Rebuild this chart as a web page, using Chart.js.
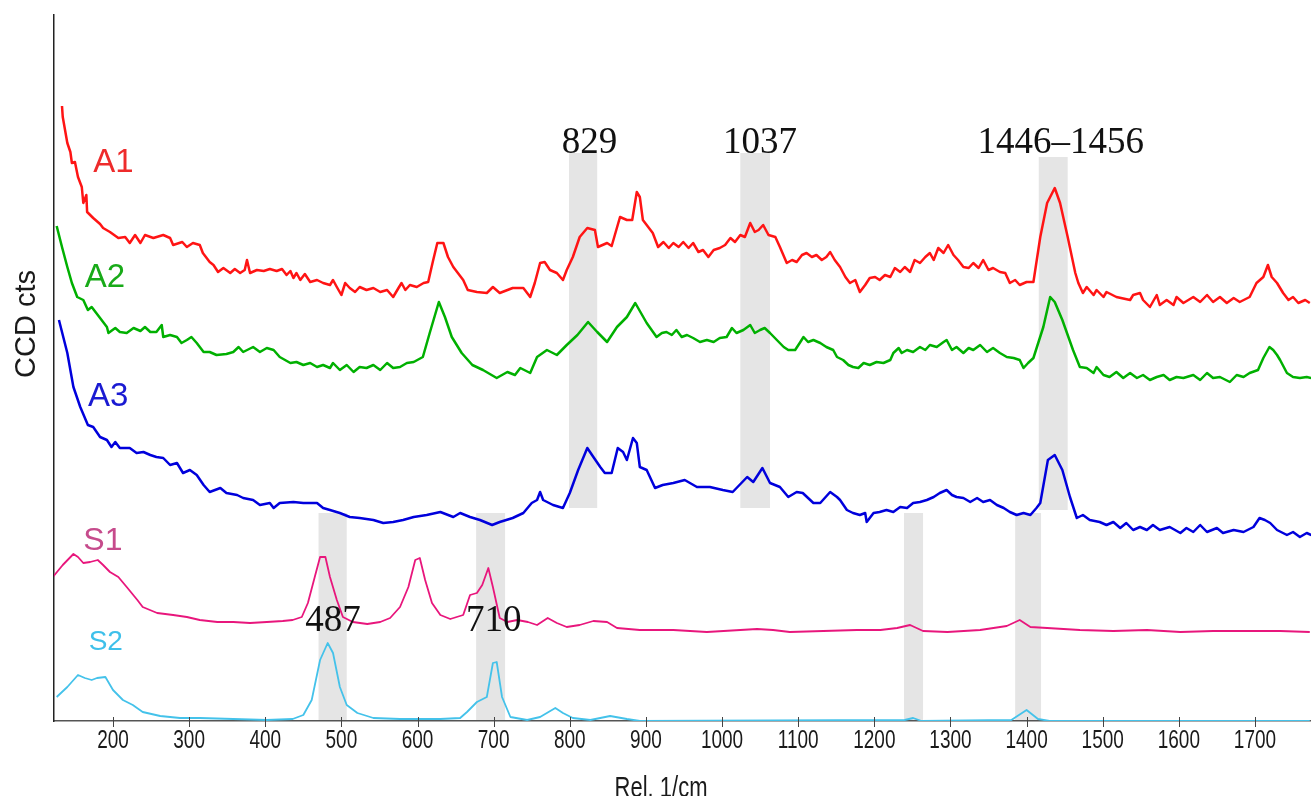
<!DOCTYPE html>
<html>
<head>
<meta charset="UTF-8"/>
<script src="https://cdn.jsdelivr.net/npm/chart.js@4.4.0/dist/chart.umd.min.js"></script>
<style>
  html, body { margin: 0; padding: 0; background: #fff; }
</style>
</head>
<body>
<canvas id="chart" width="1311" height="796"></canvas>
<script>
// [Raman shift (1/cm), CCD counts] per trace, offsets included
const a1 = [[133,615],[134,604],[140,578],[144,569],[146,558],[150,559],[154,544],[159,534],[161,518],[165,526],[166,509],[174,503],[183,497],[187,493],[196,489],[207,483],[216,484],[222,478],[229,486],[236,478],[242,486],[253,483],[266,486],[275,483],[279,476],[291,479],[297,474],[305,478],[314,476],[318,468],[327,459],[332,456],[338,449],[345,453],[354,448],[360,452],[367,448],[373,451],[376,461],[380,448],[389,451],[398,450],[406,452],[415,450],[422,452],[428,446],[433,450],[437,443],[441,448],[446,441],[452,447],[459,439],[468,441],[476,438],[485,436],[489,441],[494,434],[500,426],[505,438],[511,433],[518,429],[524,434],[533,431],[542,433],[551,429],[560,431],[568,424],[575,433],[579,438],[584,431],[590,436],[599,434],[608,438],[614,439],[620,459],[626,478],[634,478],[640,464],[647,454],[660,441],[666,431],[678,429],[691,428],[699,434],[708,428],[725,433],[739,433],[748,424],[754,438],[761,458],[767,459],[774,451],[783,448],[791,441],[796,451],[804,464],[813,484],[823,493],[833,491],[837,474],[849,478],[855,475],[866,504],[875,501],[882,501],[888,529],[892,524],[896,501],[909,488],[916,474],[923,479],[930,473],[936,478],[943,474],[949,479],[956,473],[962,478],[969,469],[975,471],[982,464],[989,471],[997,473],[1004,476],[1011,483],[1017,479],[1024,486],[1030,484],[1037,498],[1043,489],[1048,491],[1054,496],[1061,486],[1070,484],[1076,474],[1085,458],[1092,461],[1098,459],[1105,466],[1111,468],[1118,464],[1124,466],[1131,461],[1137,464],[1142,469],[1148,461],[1155,454],[1162,444],[1168,438],[1175,441],[1181,429],[1188,436],[1194,443],[1201,444],[1207,441],[1214,446],[1221,444],[1227,453],[1234,449],[1240,454],[1247,449],[1253,461],[1260,458],[1267,464],[1273,468],[1278,461],[1284,473],[1291,468],[1297,476],[1304,466],[1310,461],[1317,454],[1324,453],[1330,458],[1337,453],[1343,461],[1350,451],[1356,453],[1365,449],[1372,448],[1378,438],[1385,441],[1391,436],[1400,439],[1409,439],[1418,484],[1427,518],[1437,533],[1444,518],[1454,484],[1464,448],[1468,438],[1474,428],[1479,434],[1488,426],[1492,431],[1501,424],[1505,429],[1518,424],[1536,421],[1540,426],[1549,428],[1553,421],[1562,414],[1571,426],[1575,416],[1584,421],[1593,416],[1597,424],[1606,418],[1619,424],[1628,419],[1637,426],[1645,419],[1654,424],[1663,418],[1672,423],[1680,419],[1693,424],[1702,438],[1711,444],[1717,456],[1722,444],[1729,438],[1737,428],[1744,421],[1750,424],[1757,418],[1766,421],[1772,418]];

const a2 = [[126,495],[133,474],[140,454],[146,438],[153,424],[161,421],[167,411],[172,414],[183,403],[192,394],[194,388],[203,393],[209,389],[218,388],[227,393],[236,390],[242,394],[249,389],[257,389],[264,396],[266,384],[275,386],[284,384],[290,378],[297,381],[303,384],[310,378],[319,369],[327,369],[336,366],[349,367],[358,369],[365,374],[371,369],[384,374],[393,369],[402,373],[411,371],[419,364],[433,358],[441,359],[450,356],[459,358],[468,354],[476,356],[485,353],[489,358],[498,351],[507,356],[516,349],[524,354],[533,353],[542,356],[551,351],[560,358],[568,353],[577,354],[586,358],[595,359],[607,364],[616,388],[628,419],[636,404],[645,384],[658,368],[672,356],[686,351],[704,343],[718,349],[728,346],[735,353],[748,348],[757,364],[770,371],[783,366],[796,376],[810,386],[824,399],[836,389],[849,379],[862,394],[875,404],[886,418],[901,398],[914,384],[921,388],[927,389],[934,386],[940,391],[947,384],[954,386],[962,383],[971,379],[980,381],[989,379],[997,383],[1006,384],[1013,393],[1019,388],[1028,391],[1037,396],[1043,388],[1050,391],[1056,393],[1063,388],[1072,381],[1081,374],[1087,371],[1096,371],[1102,378],[1107,384],[1113,379],[1120,381],[1129,378],[1137,374],[1146,371],[1151,364],[1159,361],[1166,356],[1172,354],[1179,353],[1186,358],[1194,356],[1203,359],[1212,358],[1221,361],[1225,368],[1232,373],[1236,368],[1243,371],[1251,369],[1260,374],[1267,371],[1273,376],[1282,374],[1291,379],[1295,381],[1302,371],[1308,374],[1317,368],[1324,373],[1330,371],[1339,376],[1348,369],[1356,373],[1365,368],[1374,364],[1383,363],[1391,361],[1396,353],[1402,358],[1409,363],[1422,394],[1431,424],[1437,419],[1447,401],[1461,371],[1470,354],[1479,353],[1488,348],[1492,354],[1501,346],[1509,344],[1518,349],[1527,343],[1536,348],[1545,343],[1553,346],[1562,341],[1571,344],[1580,346],[1588,341],[1597,344],[1606,343],[1619,346],[1628,341],[1637,348],[1645,343],[1654,344],[1667,339],[1676,346],[1685,344],[1693,348],[1704,351],[1711,363],[1719,374],[1724,371],[1729,366],[1733,361],[1742,348],[1750,344],[1759,343],[1768,344],[1774,343]];

const a3 = [[129,401],[140,368],[148,334],[157,314],[167,296],[174,294],[183,284],[192,281],[198,274],[203,279],[209,273],[222,273],[231,268],[240,269],[249,266],[257,264],[266,263],[275,256],[284,258],[292,248],[301,251],[310,246],[319,236],[327,229],[341,233],[349,228],[363,226],[371,223],[384,221],[393,216],[406,218],[411,213],[419,218],[437,219],[450,218],[468,218],[476,213],[485,211],[498,208],[511,204],[524,203],[542,201],[555,198],[568,199],[581,201],[595,204],[612,206],[630,209],[647,204],[656,208],[669,204],[682,201],[698,196],[708,199],[725,203],[739,208],[750,218],[757,221],[761,229],[765,221],[778,216],[791,213],[800,228],[811,251],[823,273],[831,264],[840,254],[846,248],[855,248],[863,273],[870,269],[875,261],[883,283],[888,278],[892,254],[901,251],[912,233],[922,236],[936,238],[951,241],[967,234],[984,234],[1001,231],[1014,229],[1033,244],[1041,239],[1053,253],[1063,238],[1076,234],[1087,224],[1098,229],[1106,228],[1120,218],[1129,218],[1142,229],[1151,224],[1155,221],[1164,211],[1172,208],[1181,206],[1188,208],[1190,199],[1199,208],[1207,209],[1216,211],[1225,209],[1234,214],[1243,213],[1251,218],[1260,219],[1269,221],[1278,224],[1286,228],[1295,231],[1302,226],[1308,224],[1317,223],[1326,219],[1335,223],[1343,219],[1352,221],[1361,216],[1370,213],[1378,209],[1387,206],[1396,208],[1405,206],[1413,213],[1418,218],[1428,261],[1437,266],[1447,251],[1457,224],[1466,203],[1474,206],[1483,201],[1496,199],[1505,196],[1514,199],[1523,193],[1531,198],[1540,191],[1549,194],[1558,191],[1566,196],[1575,191],[1588,194],[1602,188],[1610,193],[1619,189],[1628,196],[1637,189],[1650,193],[1658,188],[1672,191],[1685,189],[1698,194],[1706,203],[1713,201],[1720,198],[1729,191],[1742,186],[1750,189],[1759,184],[1768,188],[1774,186]];

const s1 = [[121,144],[134,156],[148,167],[154,164],[161,158],[170,159],[180,161],[187,156],[196,149],[207,144],[218,134],[232,121],[239,114],[258,108],[279,106],[297,104],[314,101],[337,99],[358,99],[380,98],[402,99],[423,100],[436,101],[448,104],[456,118],[465,144],[472,164],[479,164],[485,144],[494,121],[502,104],[515,99],[534,97],[551,99],[564,103],[577,114],[588,134],[597,161],[603,163],[610,141],[619,118],[630,106],[643,102],[660,106],[669,126],[678,128],[685,136],[693,153],[699,134],[708,103],[718,99],[731,101],[745,99],[757,96],[771,103],[783,98],[796,94],[813,96],[831,100],[849,99],[862,93],[892,91],[936,91],[980,89],[1024,91],[1046,92],[1067,91],[1089,89],[1133,90],[1177,91],[1208,91],[1230,93],[1247,96],[1264,90],[1296,89],[1339,91],[1374,95],[1391,101],[1405,94],[1427,93],[1470,91],[1514,90],[1558,91],[1602,89],[1645,90],[1690,90],[1733,90],[1772,89]];

const s2 = [[126,24],[140,34],[154,46],[163,43],[172,41],[179,43],[190,44],[200,31],[213,21],[226,16],[239,9],[262,5],[288,3],[314,3],[358,2],[402,1],[436,2],[450,6],[461,21],[472,61],[482,78],[489,68],[498,34],[507,16],[521,8],[542,3],[577,2],[630,2],[656,3],[665,9],[678,19],[691,24],[699,58],[704,59],[711,24],[722,4],[744,1],[761,4],[781,13],[791,8],[804,3],[827,1],[853,5],[875,2],[892,0],[1240,1],[1251,3],[1262,0],[1380,1],[1400,11],[1415,2],[1430,0],[1772,0]];

const seriesNames = ['A1', 'A2', 'A3', 'S1', 'S2'];
const seriesData = [a1, a2, a3, s1, s2];
const tickVals = [200,300,400,500,600,700,800,900,1000,1100,1200,1300,1400,1500,1600,1700];

// shaded marker bands: x range (1/cm) and y range (counts)
const bandX = [[799,836],[1024,1063],[1416,1454],[470,507],[677,715],[1239,1264],[1385,1419]];
const bandY = [[213,568],[213,568],[211,564],[1,208],[1,208],[1,208],[1,208]];
const peakTexts = ['829', '1037', '1446\u20131456', '487', '710'];

// look
const lineColors = ['#ff1414', '#00b000', '#0000dc', '#e8167c', '#44c2ea'];
const labelColors = ['#ee2b2b', '#18aa18', '#1a1ad2', '#c64b8c', '#3ec0ea'];
const labelAt = [[174,549],[163,434],[167,315],[161,171],[168,71]];
const labelSize = [33, 33, 33, 32, 28];
const peakAt = [[826,568],[1050,568],[1445,568],[489,90],[700,90]];

const decor = {
  id: 'decor',
  beforeDatasetsDraw(chart) {
    const {ctx, scales: {x, y}} = chart;
    ctx.save();
    ctx.fillStyle = '#e5e5e5';
    bandX.forEach((b, i) => {
      const l = x.getPixelForValue(b[0]), r = x.getPixelForValue(b[1]);
      const t = y.getPixelForValue(bandY[i][1]), bt = y.getPixelForValue(bandY[i][0]);
      ctx.fillRect(l, t, r - l, bt - t);
    });
    ctx.restore();
  },
  afterDraw(chart) {
    const {ctx, chartArea, scales: {x, y}} = chart;
    const base = chartArea.bottom;
    ctx.save();
    // x ticks crossing the axis
    ctx.strokeStyle = '#444';
    ctx.lineWidth = 1;
    tickVals.forEach(v => {
      const px = Math.round(x.getPixelForValue(v)) + 0.5;
      ctx.beginPath();
      ctx.moveTo(px, base - 4);
      ctx.lineTo(px, base + 6);
      ctx.stroke();
    });
    // tick labels (tall narrow look)
    ctx.fillStyle = '#1a1a1a';
    ctx.textAlign = 'center';
    ctx.textBaseline = 'alphabetic';
    ctx.font = '19px "Liberation Sans", Arial, sans-serif';
    tickVals.forEach(v => {
      ctx.save();
      ctx.translate(x.getPixelForValue(v), base + 27);
      ctx.scale(1, 1.33);
      ctx.fillText(String(v), 0, 0);
      ctx.restore();
    });
    // axis titles
    ctx.save();
    ctx.font = '22px "Liberation Sans", Arial, sans-serif';
    ctx.translate(661, base + 76);
    ctx.scale(1, 1.3);
    ctx.fillText('Rel. 1/cm', 0, 0);
    ctx.restore();
    ctx.save();
    ctx.font = '29px "Liberation Sans", Arial, sans-serif';
    ctx.translate(35, 324);
    ctx.rotate(-Math.PI / 2);
    ctx.fillText('CCD cts', 0, 0);
    ctx.restore();
    // series names
    ctx.textAlign = 'left';
    seriesNames.forEach((n, i) => {
      ctx.fillStyle = labelColors[i];
      ctx.font = labelSize[i] + 'px "Liberation Sans", Arial, sans-serif';
      ctx.fillText(n, x.getPixelForValue(labelAt[i][0]), y.getPixelForValue(labelAt[i][1]));
    });
    // peak numbers
    ctx.textAlign = 'center';
    ctx.fillStyle = '#111';
    ctx.font = '37px "Liberation Serif", "Times New Roman", serif';
    peakTexts.forEach((t, i) => {
      ctx.fillText(t, x.getPixelForValue(peakAt[i][0]), y.getPixelForValue(peakAt[i][1]));
    });
    ctx.restore();
  }
};

const datasets = seriesNames.map((n, i) => ({
  label: n,
  data: seriesData[i].map(p => ({x: p[0], y: p[1]})),
  borderColor: lineColors[i],
  borderWidth: i < 3 ? 2.5 : 1.8,
  borderJoinStyle: 'round',
  pointRadius: 0,
  tension: 0,
  fill: false
}));

new Chart(document.getElementById('chart').getContext('2d'), {
  type: 'line',
  data: {datasets: datasets},
  options: {
    responsive: false,
    animation: false,
    devicePixelRatio: 1,
    layout: {padding: {top: 15, left: 0, right: 0, bottom: 0}},
    plugins: {legend: {display: false}, tooltip: {enabled: false}},
    scales: {
      x: {
        type: 'linear', min: 122.5, max: 1773.6,
        grid: {display: false},
        border: {display: true, color: '#555', width: 1.5},
        ticks: {display: false},
        afterFit: s => { s.height = 75; }
      },
      y: {
        min: 0, max: 706,
        grid: {display: false},
        border: {display: true, color: '#222', width: 1.5},
        ticks: {display: false},
        afterFit: s => { s.width = 54; }
      }
    }
  },
  plugins: [decor]
});
</script>
</body>
</html>
